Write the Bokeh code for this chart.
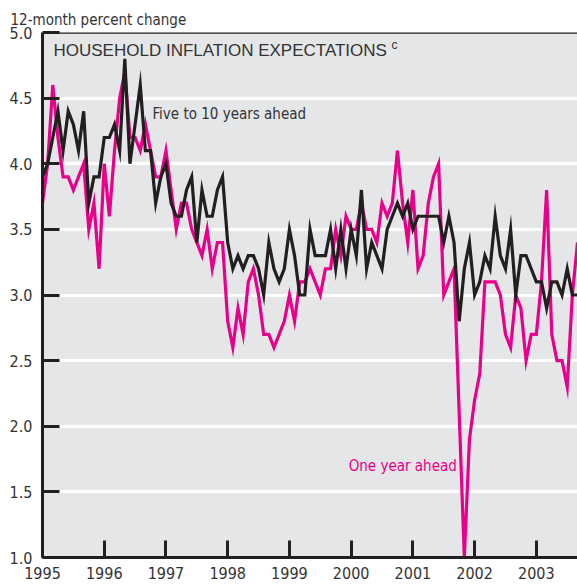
import numpy as np
from bokeh.plotting import figure
from bokeh.models import FixedTicker, Label, Span, Range1d, ColumnDataSource
from bokeh.embed import file_html
from bokeh.resources import INLINE

# ---- data (monthly, from January 1995) ----
start_year = 1995
five_to_ten_years = [
    3.9, 4.0, 4.2, 4.4, 4.1, 4.4, 4.3, 4.1, 4.4, 3.7, 3.9, 3.9,   # 1995
    4.2, 4.2, 4.3, 4.1, 4.8, 4.0, 4.3, 4.6, 4.1, 4.1, 3.7, 3.9,   # 1996
    4.0, 3.7, 3.6, 3.6, 3.8, 3.9, 3.4, 3.8, 3.6, 3.6, 3.8, 3.9,   # 1997
    3.4, 3.2, 3.3, 3.2, 3.3, 3.3, 3.2, 3.0, 3.4, 3.2, 3.1, 3.2,   # 1998
    3.5, 3.3, 3.0, 3.0, 3.5, 3.3, 3.3, 3.3, 3.5, 3.2, 3.5, 3.2,   # 1999
    3.5, 3.3, 3.8, 3.2, 3.4, 3.3, 3.2, 3.5, 3.6, 3.7, 3.6, 3.7,   # 2000
    3.5, 3.6, 3.6, 3.6, 3.6, 3.6, 3.4, 3.6, 3.4, 2.8, 3.2, 3.4,   # 2001
    3.0, 3.1, 3.3, 3.2, 3.6, 3.3, 3.2, 3.5, 3.0, 3.3, 3.3, 3.2,   # 2002
    3.1, 3.1, 2.9, 3.1, 3.1, 3.0, 3.2, 3.0, 3.0,                  # 2003
]
one_year = [
    3.7, 4.0, 4.6, 4.2, 3.9, 3.9, 3.8, 3.9, 4.0, 3.5, 3.7, 3.2,   # 1995
    4.0, 3.6, 4.1, 4.5, 4.7, 4.2, 4.2, 4.1, 4.3, 4.1, 3.9, 3.9,   # 1996
    4.1, 3.8, 3.5, 3.7, 3.7, 3.5, 3.4, 3.3, 3.5, 3.2, 3.4, 3.4,   # 1997
    2.8, 2.6, 2.9, 2.7, 3.1, 3.2, 3.0, 2.7, 2.7, 2.6, 2.7, 2.8,   # 1998
    3.0, 2.8, 3.1, 3.1, 3.2, 3.1, 3.0, 3.2, 3.2, 3.5, 3.3, 3.6,   # 1999
    3.5, 3.5, 3.7, 3.5, 3.5, 3.4, 3.7, 3.6, 3.7, 4.1, 3.7, 3.4,   # 2000
    3.8, 3.2, 3.3, 3.7, 3.9, 4.0, 3.0, 3.1, 3.2, 2.1, 1.0, 1.9,   # 2001
    2.2, 2.4, 3.1, 3.1, 3.1, 3.0, 2.7, 2.6, 3.0, 2.9, 2.5, 2.7,   # 2002
    2.7, 3.1, 3.8, 2.7, 2.5, 2.5, 2.3, 3.0, 3.4,                  # 2003
]
y_ticks = [1.0, 1.5, 2.0, 2.5, 3.0, 3.5, 4.0, 4.5, 5.0]
y_labels = {t: f"{t:.1f}" for t in y_ticks}
x_ticks = [1995, 1996, 1997, 1998, 1999, 2000, 2001, 2002, 2003]
grid_lines = [1.5, 2.0, 2.5, 3.0, 3.5, 4.0, 4.5]

months = [start_year + i / 12 for i in range(len(one_year))]
src = ColumnDataSource(dict(t=months, long=five_to_ten_years, short=one_year))

NARROW = "DejaVu Sans Condensed"
TEXT = "#333333"
INK = "#231f20"
PINK = "#e8008a"

p = figure(
    width=577, height=586,
    x_range=Range1d(1995, 2003 + 8 / 12), y_range=Range1d(1.0, 5.0),
    output_backend="svg", toolbar_location=None,
    min_border_left=42, min_border_right=0, min_border_top=32, min_border_bottom=29,
    background_fill_color="#e5e6e8", border_fill_color="white",
    title="12-month percent change",
)
p.outline_line_color = None
p.title.text_font = NARROW
p.title.text_font_size = "15px"
p.title.text_font_style = "normal"
p.title.text_color = TEXT
p.title.align = "left"
p.title.offset = -32
p.title.standoff = 7

# axes
p.yaxis.ticker = FixedTicker(ticks=y_ticks)
p.xaxis.ticker = FixedTicker(ticks=x_ticks)
for ax in (p.xaxis[0], p.yaxis[0]):
    ax.axis_line_color = INK
    ax.axis_line_width = 3
    ax.major_tick_line_color = INK
    ax.major_tick_line_width = 3
    ax.major_tick_in = 17
    ax.major_tick_out = 0
    ax.minor_tick_line_color = None
    ax.major_label_text_font = NARROW
    ax.major_label_text_font_size = "16px"
    ax.major_label_text_color = TEXT
p.yaxis.major_label_standoff = 10
p.yaxis.major_label_overrides = y_labels
p.xaxis.major_label_standoff = 9

p.xgrid.grid_line_color = None
p.ygrid.ticker = FixedTicker(ticks=grid_lines)
p.ygrid.grid_line_color = "white"
p.ygrid.grid_line_width = 3

p.add_layout(Span(location=5.0, dimension="width", line_color=INK, line_width=2.5))

# series
p.line("t", "short", source=src, line_color=PINK, line_width=3.2, line_join="miter")
p.line("t", "long", source=src, line_color=INK, line_width=3.2, line_join="miter")

# texts
p.add_layout(Label(x=11, x_units="screen", y=5.0, y_offset=-17.5,
                   text="HOUSEHOLD INFLATION EXPECTATIONS",
                   text_font="Liberation Sans", text_font_size="17px", text_color=TEXT,
                   text_baseline="alphabetic"))
p.add_layout(Label(x=349, x_units="screen", y=5.0, y_offset=-12.5, text="c",
                   text_font="Liberation Sans", text_font_size="12px", text_color=TEXT,
                   text_baseline="alphabetic"))
p.add_layout(Label(x=1996.78, y=4.38, text="Five to 10 years ahead",
                   text_font=NARROW, text_font_size="15px", text_color=TEXT,
                   text_baseline="alphabetic"))
p.add_layout(Label(x=1999.96, y=1.70, text="One year ahead",
                   text_font=NARROW, text_font_size="15px", text_color=PINK,
                   text_baseline="alphabetic"))

open("out.html", "w").write(file_html(p, INLINE))
